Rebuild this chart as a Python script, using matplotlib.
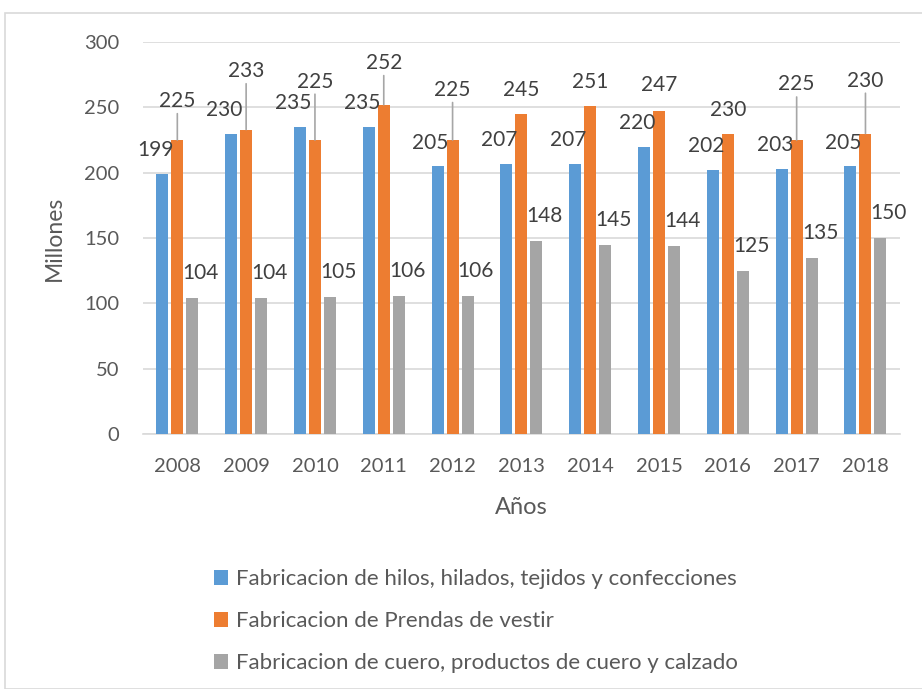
import matplotlib.pyplot as plt
from matplotlib.patches import Rectangle
import numpy as np

plt.rcParams['font.family'] = ['Lato', 'DejaVu Sans']

years = ['2008', '2009', '2010', '2011', '2012', '2013', '2014', '2015', '2016', '2017', '2018']
hilos = [199, 230, 235, 235, 205, 207, 207, 220, 202, 203, 205]
prendas = [225, 233, 225, 252, 225, 245, 251, 247, 230, 225, 230]
cuero = [104, 104, 105, 106, 106, 148, 145, 144, 125, 135, 150]
series_names = ['Fabricacion de hilos, hilados, tejidos y confecciones',
                'Fabricacion de Prendas de vestir',
                'Fabricacion de cuero, productos de cuero y calzado']

# label layout (points above bar top) for the orange series, as in the original
prendas_label_rise = [28, 42, 42, 30, 36, 17, 17, 19, 17, 40, 38]

colors = ['#5B9BD5', '#ED7D31', '#A5A5A5']
text_color = '#595959'
label_color = '#404040'

fig = plt.figure(figsize=(9.22, 6.89), dpi=100)
ax = fig.add_axes([0.155, 0.370, 0.821, 0.569])

# outer chart frame
fig.patches.append(Rectangle((5 / 922, 0), 1.2, 1 - 13 / 689, transform=fig.transFigure,
                             fill=False, edgecolor='#D9D9D9', linewidth=1.2))

x = np.arange(len(years))
width = 0.175
step = 0.218
ax.bar(x - step, hilos, width, color=colors[0], label=series_names[0], zorder=3)
ax.bar(x, prendas, width, color=colors[1], label=series_names[1], zorder=3)
ax.bar(x + step, cuero, width, color=colors[2], label=series_names[2], zorder=3)

fs = 15
for xi, v in zip(x, hilos):
    ax.annotate(str(v), (xi - step, v), xytext=(-5, 17), textcoords='offset points',
                ha='center', va='center', fontsize=fs, color=label_color, zorder=5)
for xi, v in zip(x, cuero):
    ax.annotate(str(v), (xi + step, v), xytext=(6, 18), textcoords='offset points',
                ha='center', va='center', fontsize=fs, color=label_color, zorder=5)
for xi, v, rise in zip(x, prendas, prendas_label_rise):
    ax.annotate(str(v), (xi, v), xytext=(0, rise), textcoords='offset points',
                ha='center', va='center', fontsize=fs, color=label_color, zorder=5)
    if rise > 25:
        ax.annotate('', (xi, v), xytext=(0, rise - 9), textcoords='offset points',
                    arrowprops=dict(arrowstyle='-', color='#A6A6A6', lw=1.2,
                                    shrinkA=0, shrinkB=0), zorder=4)

ax.set_ylim(0, 300)
ax.set_xlim(-0.5, len(years) - 0.5)
ax.set_yticks(np.arange(0, 301, 50))
ax.set_xticks(x)
ax.set_xticklabels(years)
ax.yaxis.grid(True, color='#D9D9D9', linewidth=1.2, zorder=0)
ax.set_axisbelow(True)
for side in ['top', 'right', 'left']:
    ax.spines[side].set_visible(False)
ax.spines['bottom'].set_color('#D9D9D9')
ax.spines['bottom'].set_linewidth(1.2)
ax.tick_params(axis='both', length=0, labelsize=14.5, labelcolor=text_color)
ax.tick_params(axis='y', pad=17)
ax.tick_params(axis='x', pad=17)

ax.set_ylabel('Millones', fontsize=16.5, color=text_color, labelpad=14)
ax.set_xlabel('Años', fontsize=17, color=text_color, labelpad=16)

fig.legend(loc='upper left', bbox_to_anchor=(0.222, 0.187), frameon=False,
           fontsize=16, labelcolor=text_color, handlelength=0.65, handleheight=0.65,
           handletextpad=0.35, labelspacing=1.0, borderaxespad=0)

fig.savefig('out.png', dpi=100)
